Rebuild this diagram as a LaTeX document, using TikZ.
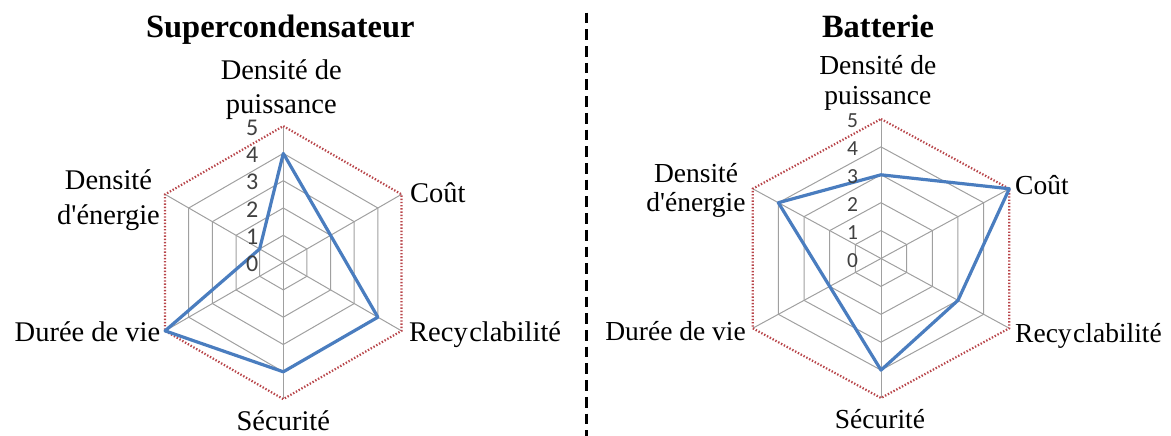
\documentclass[tikz,border=0pt]{standalone}
\usepackage{fontspec}
\setmainfont{Liberation Serif}[Ligatures=TeXOff]
\newfontfamily\tickfont{Carlito}
\definecolor{gridgray}{HTML}{A0A0A0}
\definecolor{serieblue}{HTML}{4A7DBF}
\definecolor{outerred}{HTML}{B8454A}
\definecolor{tickgray}{HTML}{404040}
\begin{document}
\begin{tikzpicture}[x=1pt,y=1pt,
  gridline/.style={draw=gridgray,line width=1pt},
  outerline/.style={draw=outerred,line width=2.2pt,dash pattern=on 1.4pt off 1.8pt},
  seriesline/.style={draw=serieblue,line width=3.2pt,line join=round},
  sepline/.style={draw=black,line width=2.6pt,dash pattern=on 10.7pt off 6pt},
  titlelab/.style={inner sep=0pt,font=\bfseries\fontsize{32.5}{36}\selectfont},
  axislab/.style={inner sep=0pt,font=\fontsize{28.5}{34}\selectfont},
  axislabR/.style={inner sep=0pt,font=\fontsize{27.5}{33}\selectfont},
  ticklab/.style={inner sep=0pt,text=tickgray,font=\tickfont\fontsize{24}{26}\selectfont},
  ticklabR/.style={inner sep=0pt,text=tickgray,font=\tickfont\fontsize{21.5}{23}\selectfont}
]
\useasboundingbox (0,0) rectangle (1171,-436);

% ---------- separator ----------
\coordinate (sepTop) at (586.7,-12.7);
\coordinate (sepBot) at (586.7,-436);
\draw[sepline] (sepTop) -- (sepBot);

% ---------- left chart : Supercondensateur ----------
\begin{scope}[shift={(283.3,-262.6)}]
  \foreach \k in {1,...,4}{
    \pgfmathsetmacro\rr{\k*27.3}
    \draw[gridline] (90:\rr) -- (30:\rr) -- (-30:\rr) -- (-90:\rr) -- (-150:\rr) -- (150:\rr) -- cycle;
  }
  \foreach \a in {90,30,-30,-90,-150,150}{
    \draw[gridline] (0,0) -- (\a:136.5);
  }
  \draw[outerline] (90:136.5) -- (30:136.5) -- (-30:136.5) -- (-90:136.5) -- (-150:136.5) -- (150:136.5) -- cycle;
  \draw[seriesline] (90:109.2) -- (30:54.6) -- (-30:109.2) -- (-90:109.2) -- (-150:136.5) -- (150:27.3) -- cycle;
\end{scope}
\foreach \k in {0,...,5}{
  \pgfmathsetmacro\yy{-(262.6-27.3*\k+1.5)}
  \node[ticklab,anchor=east] (tL\k) at (258.5,\yy) {\k};
}
\node[titlelab,anchor=base] (titleL) at (280.3,-37.3) {Supercondensateur};
\node[axislab,anchor=base] (pL1) at (281.3,-79.3) {Densité de};
\node[axislab,anchor=base] (pL2) at (281.3,-113.5) {puissance};
\node[axislab,anchor=base west] (cL) at (410,-202) {Coût};
\node[axislab,anchor=base west] (rL) at (409,-341) {Recy\kern1.5pt clabilité};
\node[axislab,anchor=base] (sL) at (283.3,-430) {Sécurité};
\node[axislab,anchor=base east] (dL) at (160.5,-341.5) {Durée de vie};
\node[axislab,anchor=base] (eL1) at (108.5,-189.3) {Densité};
\node[axislab,anchor=base] (eL2) at (108.5,-224) {d'énergie};

% ---------- right chart : Batterie ----------
\begin{scope}[shift={(881,-258.5)},xscale=1.062]
  \foreach \k in {1,...,4}{
    \pgfmathsetmacro\rr{\k*27.9}
    \draw[gridline] (90:\rr) -- (30:\rr) -- (-30:\rr) -- (-90:\rr) -- (-150:\rr) -- (150:\rr) -- cycle;
  }
  \foreach \a in {90,30,-30,-90,-150,150}{
    \draw[gridline] (0,0) -- (\a:139.5);
  }
  \draw[outerline] (90:139.5) -- (30:139.5) -- (-30:139.5) -- (-90:139.5) -- (-150:139.5) -- (150:139.5) -- cycle;
  \draw[seriesline] (90:83.7) -- (30:139.5) -- (-30:83.7) -- (-90:111.6) -- (-150:55.8) -- (150:111.6) -- cycle;
\end{scope}
\foreach \k in {0,...,5}{
  \pgfmathsetmacro\yy{-(258.5-27.9*\k+1.7)}
  \node[ticklabR,anchor=east] (tR\k) at (858.3,\yy) {\k};
}
\node[titlelab,anchor=base] (titleR) at (878,-37.3) {Batterie};
\node[axislabR,anchor=base] (pR1) at (877.8,-75) {Densité de};
\node[axislabR,anchor=base] (pR2) at (877.8,-104) {puissance};
\node[axislabR,anchor=base west] (cR) at (1015,-194.3) {Coût};
\node[axislabR,anchor=base west] (rR) at (1015,-342.7) {Recy\kern1.5pt clabilité};
\node[axislabR,anchor=base] (sR) at (880,-428) {Sécurité};
\node[axislabR,anchor=base east] (dR) at (746,-340) {Durée de vie};
\node[axislabR,anchor=base] (eR1) at (696,-182) {Densité};
\node[axislabR,anchor=base] (eR2) at (696,-211) {d'énergie};
\end{tikzpicture}
\end{document}
